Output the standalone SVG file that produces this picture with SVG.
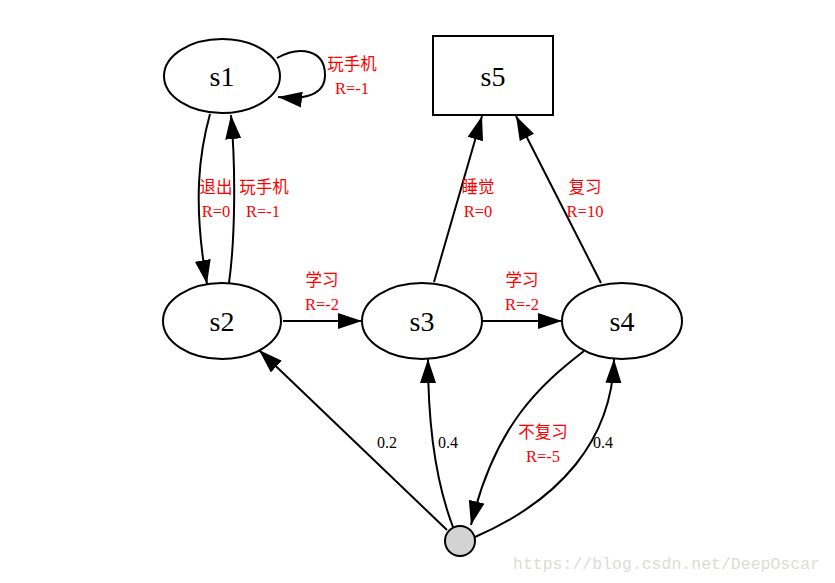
<svg xmlns="http://www.w3.org/2000/svg" width="835" height="583" viewBox="0 0 835 583">
<style>
.node{fill:none;stroke:#000;stroke-width:2}
.nl{font-family:"Liberation Serif","Times New Roman",serif;font-size:28px;text-anchor:middle;fill:#000}
.e{fill:none;stroke:#000;stroke-width:2;marker-end:url(#ah)}
.el{font-family:"Liberation Serif","Noto Sans CJK SC",serif;font-size:16.5px;text-anchor:middle;fill:#ff0000}
.cj{font-size:16.5px}
.pl{font-family:"Liberation Serif",serif;font-size:16px;text-anchor:middle;fill:#000}
.wm{font-family:"Liberation Mono","Courier New",monospace;font-size:16.5px;fill:#dcdcd6}
</style>
<defs>
<marker id="ah" viewBox="0 0 24 16" refX="24" refY="8" markerWidth="24" markerHeight="16" markerUnits="userSpaceOnUse" orient="auto">
<path d="M0,0 L24,8 L0,16 z" fill="#000"/>
</marker>
</defs>
<rect width="835" height="583" fill="#fff"/>
<g id="edges">
<path class="e" d="M277,58 C300,45 325,50 325,75 C325,95 305,100 278,97"/>
<path class="e" d="M210,114 C200,150 192,200 207,284"/>
<path class="e" d="M229,283 C235,240 236,170 231,115"/>
<path class="e" d="M283,321 L362,321"/>
<path class="e" d="M483,321 L562,321"/>
<path class="e" d="M434,282 L482,116"/>
<path class="e" d="M601,283 L516,116"/>
<path class="e" d="M584,351 C540,385 495,425 471,525"/>
<path class="e" d="M447,530 L259,350"/>
<path class="e" d="M453,527 C435,480 428,420 428,359"/>
<path class="e" d="M475,537 C560,500 612,440 614,359"/>
<text class="el cj" x="352" y="70">玩手机</text>
<text class="el" x="352" y="94">R=-1</text>
<text class="el cj" x="216" y="193">退出</text>
<text class="el" x="216" y="217">R=0</text>
<text class="el cj" x="264" y="193">玩手机</text>
<text class="el" x="263" y="217">R=-1</text>
<text class="el cj" x="322" y="286">学习</text>
<text class="el" x="322" y="310">R=-2</text>
<text class="el cj" x="522" y="286">学习</text>
<text class="el" x="522" y="310">R=-2</text>
<text class="el cj" x="478" y="193">睡觉</text>
<text class="el" x="478" y="217">R=0</text>
<text class="el cj" x="585" y="193">复习</text>
<text class="el" x="585" y="217">R=10</text>
<text class="el cj" x="543" y="438">不复习</text>
<text class="el" x="543" y="462">R=-5</text>
<text class="pl" x="387" y="448">0.2</text>
<text class="pl" x="448" y="448">0.4</text>
<text class="pl" x="603" y="448">0.4</text>
</g>
<g id="s1"><ellipse class="node" cx="222" cy="76" rx="58" ry="37"/><text class="nl" x="222" y="86">s1</text></g>
<g id="s5"><rect class="node" x="433" y="36" width="120" height="79"/><text class="nl" x="493" y="86">s5</text></g>
<g id="s2"><ellipse class="node" cx="222" cy="321" rx="59" ry="38"/><text class="nl" x="222" y="331">s2</text></g>
<g id="s3"><ellipse class="node" cx="422" cy="321" rx="60" ry="38"/><text class="nl" x="422" y="331">s3</text></g>
<g id="s4"><ellipse class="node" cx="622" cy="321" rx="60" ry="38"/><text class="nl" x="622" y="331">s4</text></g>
<g id="c"><circle cx="460" cy="541" r="15" fill="#d3d3d3" stroke="#000" stroke-width="2"/></g>
<text class="wm" x="513" y="569">https://blog.csdn.net/DeepOscar</text>
</svg>
